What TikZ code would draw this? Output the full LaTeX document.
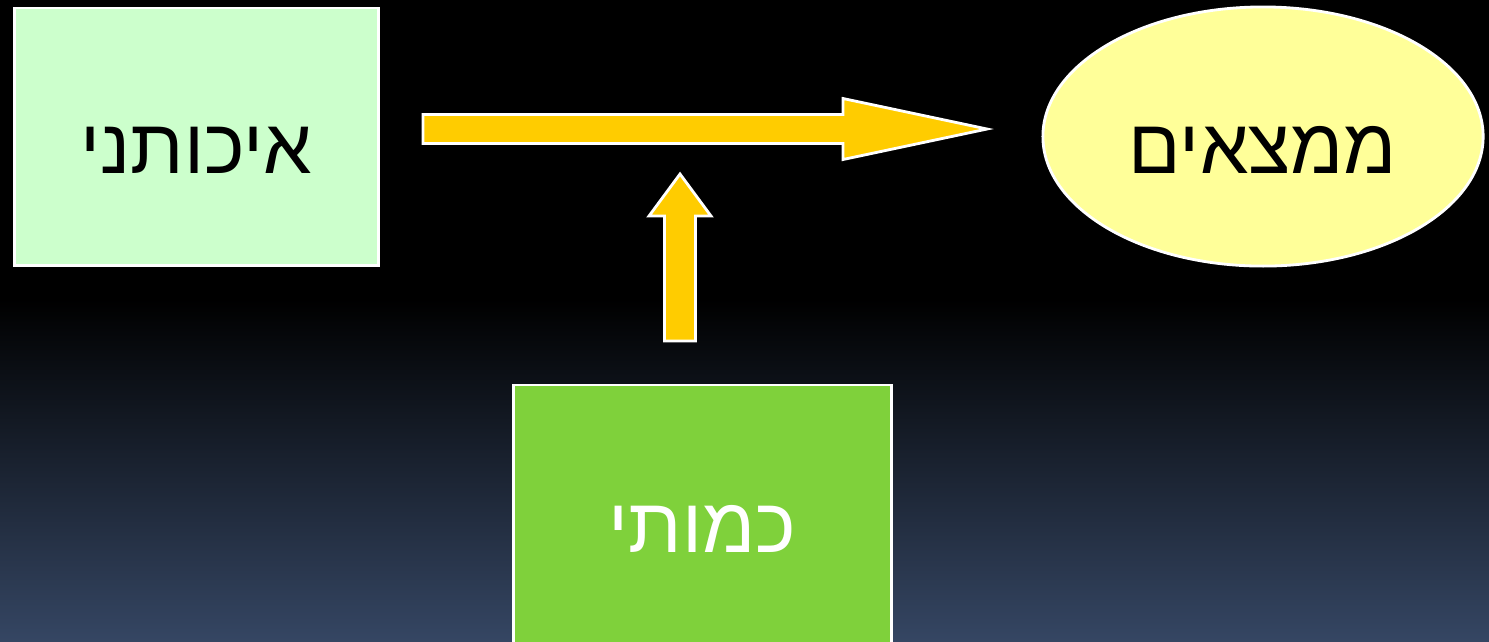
\documentclass[tikz,border=0pt]{standalone}
\usepackage{fontspec}
\setmainfont{Liberation Sans}
\newfontfamily\hebfont[Script=Hebrew]{Liberation Sans}
\TeXXeTstate=1
\usetikzlibrary{shapes.geometric}

\definecolor{qualgreen}{RGB}{204,255,204}
\definecolor{quantgreen}{RGB}{127,209,59}
\definecolor{findyellow}{RGB}{255,255,153}
\definecolor{arrowyellow}{RGB}{255,204,0}
\definecolor{bgblue}{RGB}{53,70,99}

\begin{document}
\begin{tikzpicture}[
  x=0.01cm, y=-0.01cm,
  font=\hebfont\fontsize{22}{26}\selectfont,
  box/.style={
    draw=white,
    line width=0.8pt,
    rectangle,
    inner sep=0pt,
    text height=0.73cm,
    text depth=0cm
  },
  finding/.style={
    draw=white,
    line width=0.8pt,
    ellipse,
    inner sep=0pt,
    fill=findyellow,
    minimum width=4.4cm,
    minimum height=2.59cm,
    text height=0.73cm,
    text depth=0cm
  },
  blockarrow/.style={
    fill=arrowyellow,
    draw=white,
    line width=0.8pt,
    line join=miter
  }
]

% Background
\useasboundingbox (0,0) rectangle (1489,641);
\fill[black] (0,0) rectangle (1489,300);
\shade[top color=black, bottom color=bgblue] (0,299) rectangle (1489,641);

% Boxes
\node[box, fill=qualgreen, minimum width=3.63cm, minimum height=2.57cm] (qual) at (196.5,136.5) {\beginR איכותני\endR};
\node[finding] (findings) at (1263,136.5) {\beginR ממצאים\endR};
\node[box, fill=quantgreen, text=white, text height=0.40cm, minimum width=3.78cm, minimum height=2.94cm] (quant) at (702.5,532) {\beginR כמותי\endR};

% Arrow ends
\coordinate (hfrom) at (423,129);
\coordinate (hto) at (987,129);
\coordinate (vfrom) at (680,341);
\coordinate (vto) at (680,174);

% Block arrows
\draw[blockarrow] (hfrom) ++(0,-14.5) -- ++(420,0) -- ++(0,-16) -- (hto) -- ++(-144,30.5) -- ++(0,-16) -- ++(-420,0) -- cycle;
\draw[blockarrow] (vfrom) ++(-15.5,0) -- ++(0,-125) -- ++(-15.5,0) -- (vto) -- ++(31,42) -- ++(-15.5,0) -- ++(0,125) -- cycle;

\end{tikzpicture}
\end{document}
